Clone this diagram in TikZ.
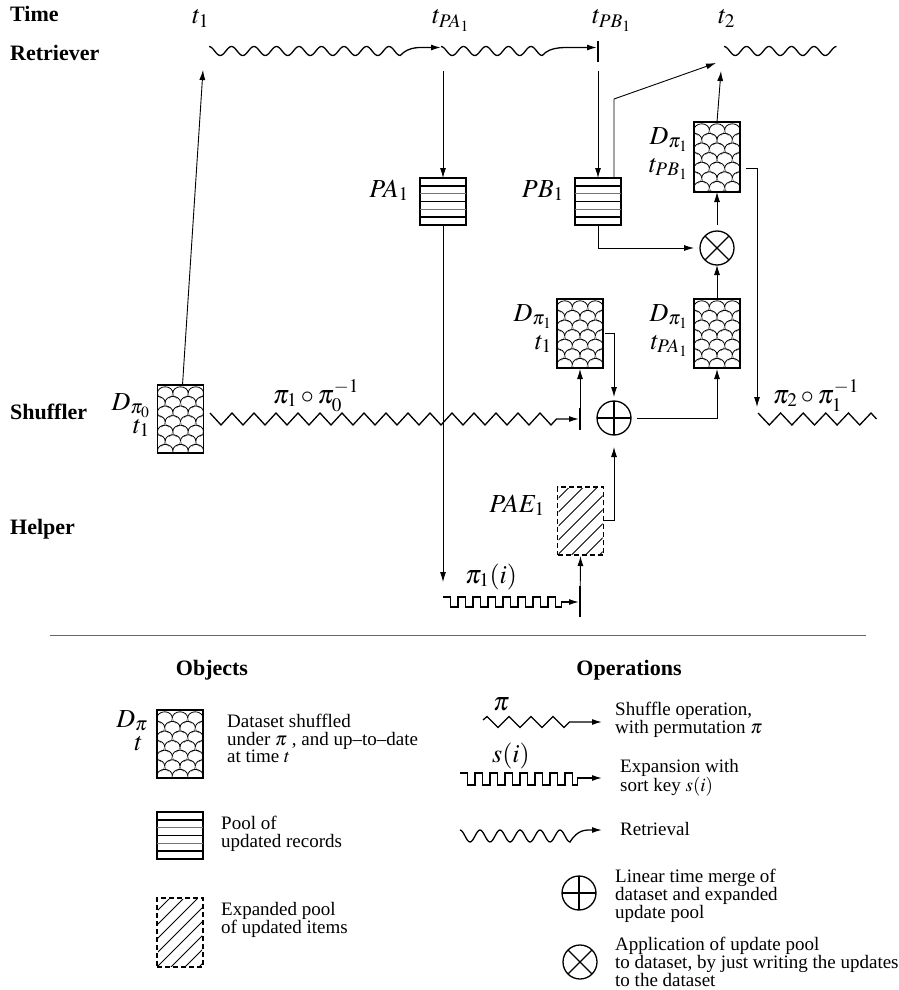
\documentclass[tikz,border=0pt]{standalone}
\usepackage{mathptmx}
\usepackage{fontspec}
\setmainfont{Liberation Serif}
\usetikzlibrary{arrows.meta}
\tikzset{
  conn/.style={line width=0.9pt, -{Latex[length=10pt,width=6pt]}},
  wavy/.style={line width=1.3pt},
  wavyarrow/.style={line width=1.3pt, -{Latex[length=10pt,width=6pt]}},
  boxnode/.style={draw, line width=1.8pt, minimum width=46pt, inner sep=0pt, outer sep=0pt},
  rowlab/.style={font=\fontsize{22}{22}\selectfont\bfseries, anchor=base west, inner sep=0pt},
  headlab/.style={font=\fontsize{22}{22}\selectfont\bfseries, anchor=base, inner sep=0pt},
  mlab/.style={font=\fontsize{26}{26}\selectfont, inner sep=0pt},
  ltext/.style={font=\fontsize{19}{17}\selectfont, anchor=base west, inner sep=0pt},
  opnode/.style={draw, circle, line width=1.3pt, minimum size=34pt, inner sep=0pt, outer sep=0pt},
  sepline/.style={black!60, line width=0.8pt},
}
\newcommand{\lines}[1]{\begin{tabular}[t]{@{}l@{}}#1\end{tabular}}
\newcommand{\dataset}[4]{%
  \node[boxnode, minimum height=#4pt] (#1) at (#2,#3) {};
  \begin{scope}
    \clip (#1.south west) rectangle (#1.north east);
    \foreach \r in {0,...,7}{
      \foreach \c in {-1,...,3}{
        \pgfmathsetmacro{\xx}{#2-23+7.67+\c*15.33+mod(\r,2)*7.67}
        \pgfmathsetmacro{\yy}{#3-#4/2+8+\r*9.6}
        \draw[black!50, line width=0.8pt] (\xx-7.67,\yy) arc[start angle=180, end angle=240, x radius=7.67pt, y radius=6.2pt];
        \draw[black!50, line width=0.8pt] (\xx+7.67,\yy) arc[start angle=0, end angle=-60, x radius=7.67pt, y radius=6.2pt];
        \draw[black, line width=0.8pt] (\xx-7.67,\yy) arc[start angle=180, end angle=0, x radius=7.67pt, y radius=6.2pt];
      }}
  \end{scope}
  \node[boxnode, minimum height=#4pt] at (#2,#3) {};
}
\newcommand{\pool}[3]{%
  \node[boxnode, minimum height=47pt] (#1) at (#2,#3) {};
  \foreach \k in {1,...,5}{
    \pgfmathsetmacro{\yy}{#3-23.5+\k*7.83}
    \ifodd\k \def\pc{black}\else\def\pc{black!55}\fi
    \draw[\pc, line width=1.6pt] (#2-23,\yy) -- (#2+23,\yy);
  }
}
\newcommand{\hatchbox}[4]{%
  \begin{scope}
    \clip (#2-22,#3-#4/2+1) rectangle (#2+22,#3+#4/2-1);
    \foreach \k in {-6,...,4}{
      \draw[line width=0.9pt] (#2-23+\k*14,#3+#4/2) -- ++(#4,-#4);
    }
  \end{scope}
  \node[draw, line width=1.3pt, dash pattern=on 5pt off 3pt, minimum width=46pt, minimum height=#4pt, inner sep=0pt, outer sep=0pt] (#1) at (#2,#3) {};
}
\begin{document}
\begin{tikzpicture}[x=1pt,y=-1pt]
\useasboundingbox (0,0) rectangle (899,990);

% ---------- row labels ----------
\node[rowlab] (labTime) at (10,22) {Time};
\node[rowlab] (labRet) at (10,60) {Retriever};
\node[rowlab] (labShuf) at (10,419) {Shuffler};
\node[rowlab] (labHelp) at (10,534) {Helper};

% ---------- time labels ----------
\node[mlab, anchor=base west] (lt1) at (192,24) {$t_1$};
\node[mlab, anchor=base west] (ltpa) at (432,24) {$t_{PA_1}$};
\node[mlab, anchor=base west] (ltpb) at (592,24) {$t_{PB_1}$};
\node[mlab, anchor=base west] (lt2) at (718,24) {$t_2$};

% ---------- objects ----------
\dataset{D0}{180.5}{419}{68}
\dataset{D1}{580}{333.5}{69}
\dataset{D2}{717}{333.5}{69}
\dataset{D3}{717}{157}{70}
\pool{PA}{443}{201.5}
\pool{PB}{598}{201.5}
\hatchbox{PAE}{580.5}{521}{68}
\node[opnode] (PLUS) at (614,418) {};
\draw[line width=1.3pt] (PLUS.north) -- (PLUS.south) (PLUS.east) -- (PLUS.west);
\node[opnode] (TIMES) at (717,248) {};
\draw[line width=1.3pt] (TIMES.45) -- (TIMES.225) (TIMES.135) -- (TIMES.315);

% ---------- object labels ----------
\node[mlab, anchor=base east] (lD0a) at (150,410) {$D_{\pi_0}$};
\node[mlab, anchor=base east] (lD0b) at (150,433) {$t_1$};
\node[mlab, anchor=base east] (lD1a) at (552,321) {$D_{\pi_1}$};
\node[mlab, anchor=base east] (lD1b) at (552,349) {$t_1$};
\node[mlab, anchor=base east] (lD2a) at (688,321) {$D_{\pi_1}$};
\node[mlab, anchor=base east] (lD2b) at (688,349) {$t_{PA_1}$};
\node[mlab, anchor=base east] (lD3a) at (688,144) {$D_{\pi_1}$};
\node[mlab, anchor=base east] (lD3b) at (688,172) {$t_{PB_1}$};
\node[mlab, anchor=base east] (lPA) at (409,197) {$PA_1$};
\node[mlab, anchor=base east] (lPB) at (564,197) {$PB_1$};
\node[mlab, anchor=base east] (lPAE) at (545,512) {$PAE_1$};
\node[mlab, anchor=base west] (lpii) at (465,583) {$\pi_1(i)$};
\node[mlab, anchor=base] (lsh1) at (316,403) {$\pi_1\circ\pi_0^{-1}$};
\node[mlab, anchor=base] (lsh2) at (816,403) {$\pi_2\circ\pi_1^{-1}$};

% ---------- retriever waves ----------
\coordinate (rw1tip) at (441,47.5);
\coordinate (rw2tip) at (597,47.5);
\coordinate (pbbartop) at (598,41);
\coordinate (pbbarbot) at (598,62);
\draw[wavyarrow] plot[domain=209:400.25, samples=140] (\x,{51-4.5*cos(16*(\x-209))}) .. controls (409,46) and (420,47.5) .. (rw1tip);
\draw[wavyarrow] plot[domain=441:542.25, samples=80] (\x,{51-4.5*cos(16*(\x-441))}) .. controls (551,46) and (562,47.5) .. (rw2tip);
\draw[line width=1.3pt] (pbbartop) -- (pbbarbot);
\draw[wavy] plot[domain=724:836.5, samples=90] (\x,{51-4.5*cos(16*(\x-724))});

% ---------- retriever connectors ----------
\coordinate (tpa) at (443,71);
\coordinate (tpb) at (598,71);
\coordinate (t1a) at (203,70);
\coordinate (t2a) at (716,63);
\coordinate (t2b) at (721,71);
\draw[conn] (tpa) -- (PA.north);
\draw[conn] (tpb) -- (PB.north);
\draw[conn] ([xshift=2pt]D0.north) -- (t1a);
\draw[conn] ([xshift=-7pt]PB.north east) -- ++(0,-79) -- (t2a);
\draw[conn] (D3.north) -- (t2b);

% ---------- PB / TIMES ----------
\draw[conn, shorten >=6pt] (PB.south) |- (TIMES.west);
\draw[conn, shorten <=6pt] (TIMES.north) -- (D3.south);
\draw[conn] (D2.north) -- (TIMES.south);
\coordinate (pi2tip) at (757,407);
\draw[conn] ([shift={(6pt,-11pt)}]D3.east) -| (pi2tip);

% ---------- shuffler ----------
\coordinate (shtip) at (579,419);
\draw[wavyarrow] (210,413) \foreach \k in {1,...,15}{ -- ++(11,12) -- ++(11,-12)} -- ++(11,12) -- ++(5.5,-6) -- (shtip);
\coordinate (sbtop) at (580,408);
\coordinate (sbbot) at (580,430);
\draw[line width=1.3pt] (sbtop) -- (sbbot);
\draw[conn, shorten >=1pt] (sbtop) -- (D1.south);
\draw[conn, shorten >=4pt] ([xshift=2pt]D1.east) -| (PLUS.north);
\draw[conn, shorten >=12pt] ([yshift=1pt]PAE.east) -| (PLUS.south);
\draw[conn, shorten <=6pt, shorten >=1pt] (PLUS.east) -| (D2.south);
\draw[wavy] (758,413) \foreach \k in {1,...,5}{ -- ++(11.3,12) -- ++(11.3,-12)} -- ++(5.5,6);

% ---------- helper ----------
\coordinate (hptip) at (443,582);
\draw[conn] (PA.south) -- (hptip);
\coordinate (hstip) at (579,602);
\draw[wavyarrow] (443,597) \foreach \k in {1,...,7}{ -- ++(7.5,0) -- ++(0,10) -- ++(7.5,0) -- ++(0,-10)} -- ++(7.5,0) -- ++(0,10) -- ++(6,0) -- ++(0,-5) -- (hstip);
\coordinate (hbtop) at (580,586);
\coordinate (hbbot) at (580,617);
\draw[line width=1.3pt] (hbtop) -- (hbbot);
\draw[conn, shorten >=1pt] (hbbot) -- (PAE.south);

% ---------- separator ----------
\coordinate (sepL) at (50,635);
\coordinate (sepR) at (866,635);
\draw[sepline] (sepL) -- (sepR);

% ---------- legend: objects ----------
\node[headlab] (hObj) at (212,675) {Objects};
\node[headlab] (hOps) at (629,675) {Operations};
\dataset{LD}{180}{744}{68}
\node[mlab, anchor=base east] (lLDa) at (148,727) {$D_{\pi}$};
\node[mlab, anchor=base east] (lLDb) at (143,750) {$t$};
\node[ltext] (tLD) at (227,727) {\lines{Dataset shuffled\\under $\pi$ , and up–to–date\\at time $t$}};
\pool{LP}{180}{835.5}
\node[ltext] (tLP) at (221,829) {\lines{Pool of\\updated records}};
\hatchbox{LH}{180}{932.5}{69}
\node[ltext] (tLH) at (221,915) {\lines{Expanded pool\\of updated items}};

% ---------- legend: operations ----------
\node[mlab, anchor=base west] (lLpi) at (493,710) {$\pi$};
\coordinate (lztip) at (602,722);
\draw[wavyarrow] (483,720) -- (487,716.5) \foreach \k in {1,...,3}{ -- ++(11,11) -- ++(11,-11)} -- ++(11,11) -- ++(5.5,-5.5) -- (lztip);
\node[ltext] (tLz) at (615,715) {\lines{Shuffle operation,\\with permutation $\pi$}};

\node[mlab, anchor=base west] (lLsi) at (492,762) {$s(i)$};
\coordinate (lsqtip) at (602,778);
\draw[wavyarrow] (460,773) \foreach \k in {1,...,7}{ -- ++(7.5,0) -- ++(0,12) -- ++(7.5,0) -- ++(0,-12)} -- ++(7.5,0) -- ++(0,12) -- ++(5,0) -- ++(0,-7) -- (lsqtip);
\node[ltext] (tLsq) at (620,772) {\lines{Expansion with\\sort key $s(i)$}};

\coordinate (lwtip) at (602,830);
\draw[wavyarrow] plot[domain=460:570, samples=90] (\x,{836-6*cos(18*(\x-460))}) .. controls (578,829) and (586,830) .. (lwtip);
\node[ltext] (tLw) at (620,835) {Retrieval};

\node[opnode] (LPLUS) at (579,893) {};
\draw[line width=1.3pt] (LPLUS.north) -- (LPLUS.south) (LPLUS.east) -- (LPLUS.west);
\node[ltext] (tLPLUS) at (615,882) {\lines{Linear time merge of\\dataset and expanded\\update pool}};

\node[opnode] (LTIMES) at (580,962) {};
\draw[line width=1.3pt] (LTIMES.45) -- (LTIMES.225) (LTIMES.135) -- (LTIMES.315);
\node[ltext] (tLTIMES) at (615,950) {\lines{Application of update pool\\to dataset, by just writing the updates\\to the dataset}};
\end{tikzpicture}
\end{document}
